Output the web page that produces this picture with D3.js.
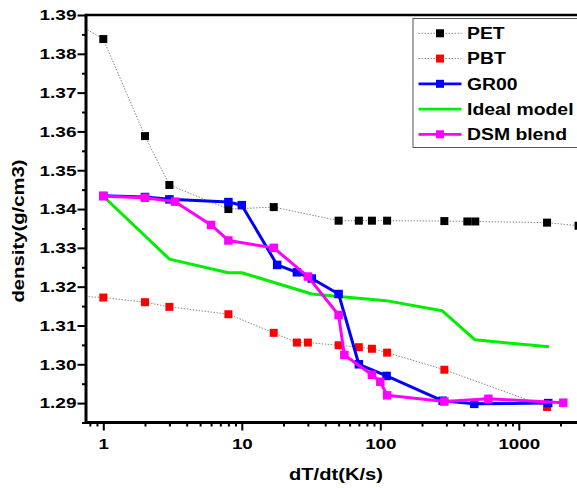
<!DOCTYPE html>
<html>
<head>
<meta charset="utf-8">
<script src="https://cdn.jsdelivr.net/npm/d3@7"></script>
<style>
  body { margin: 0; background: #fff; }
  svg { display: block; }
  text { font-family: "Liberation Sans", Arial, sans-serif; font-weight: bold; fill: #000; }
</style>
</head>
<body>
<svg id="chart" width="577" height="488"></svg>
<script>
// Cooling rate (K/s) vs. density (g/cm3)
const petX   = [0.5, 1, 2, 3, 8, 17, 50, 70, 87, 112, 290, 425, 485, 1600, 2700];
const petY   = [1.3901, 1.3838, 1.3588, 1.3462, 1.3400, 1.3405, 1.3370, 1.3370, 1.3370, 1.3370, 1.3369, 1.3368, 1.3368, 1.3365, 1.3357];

const pbtX   = [0.5, 1, 2, 3, 8, 17, 25, 30, 50, 70, 87, 112, 290, 1600];
const pbtY   = [1.3178, 1.3172, 1.3160, 1.3148, 1.3129, 1.3081, 1.3056, 1.3056, 1.3049, 1.3044, 1.3040, 1.3030, 1.2986, 1.2890];

const gr00X  = [1, 2, 3, 8, 10, 18, 25, 32, 50, 70, 111, 282, 477, 1630];
const gr00Y  = [1.3434, 1.3431, 1.3425, 1.3418, 1.3410, 1.3256, 1.3237, 1.3221, 1.3181, 1.3000, 1.2970, 1.2906, 1.2898, 1.2900];

const idealX = [1, 3, 8, 10, 32, 110, 279, 483, 1650];
const idealY = [1.3433, 1.3271, 1.3236, 1.3236, 1.3181, 1.3164, 1.3138, 1.3063, 1.3045];

const dsmX   = [1, 2, 3.3, 6, 8, 17, 30, 50, 55, 87, 100, 112, 290, 603, 2096];
const dsmY   = [1.3433, 1.3429, 1.3419, 1.3359, 1.3319, 1.3300, 1.3226, 1.3127, 1.3024, 1.2973, 1.2955, 1.2920, 1.2904, 1.2911, 1.2901];

const seriesNames = ["PET", "PBT", "GR00", "Ideal model", "DSM blend"];
const xTickLabels = [1, 10, 100, 1000];
const yTickLabels = [1.29, 1.30, 1.31, 1.32, 1.33, 1.34, 1.35, 1.36, 1.37, 1.38, 1.39];

const svg = d3.select("#chart");
const W = 577, H = 488;
const plotL = 86, plotT = 15, plotB = 422.5, decade = 138.5;
const xDomain = [0.75, 3000];

const x = d3.scaleLog().domain(xDomain)
  .range([plotL, plotL + (Math.log10(xDomain[1]) - Math.log10(xDomain[0])) * decade]);
const y = d3.scaleLinear().domain([1.285, 1.39]).range([plotB, plotT]);

// widen glyphs horizontally while keeping anchors
function stretch(sel, k) {
  sel.each(function () {
    const w = this.getComputedTextLength();
    this.setAttribute("textLength", w * k);
    this.setAttribute("lengthAdjust", "spacingAndGlyphs");
  });
}

svg.append("defs").append("clipPath").attr("id", "plotClip")
  .append("rect").attr("x", plotL).attr("y", plotT).attr("width", W - plotL).attr("height", plotB - plotT);

const plot = svg.append("g").attr("clip-path", "url(#plotClip)");

const pts = (xs, ys) => xs.map((v, i) => [v, ys[i]]);
const line = d3.line().x(d => x(d[0])).y(d => y(d[1]));

function drawSeries(data, opts) {
  plot.append("path").datum(data)
    .attr("d", line)
    .attr("fill", "none")
    .attr("stroke", opts.stroke)
    .attr("stroke-width", opts.width)
    .attr("stroke-dasharray", opts.dash || null)
    .attr("stroke-linejoin", "round");
  if (opts.marker) {
    const s = opts.size;
    plot.append("g").selectAll("rect").data(data).join("rect")
      .attr("x", d => x(d[0]) - s / 2)
      .attr("y", d => y(d[1]) - s / 2)
      .attr("width", s).attr("height", s)
      .attr("fill", opts.marker);
  }
}

const styles = {
  "PET":         { stroke: "#8a8a8a", width: 1, dash: "1.5,1.5", marker: "#000000", size: 8 },
  "PBT":         { stroke: "#8a8a8a", width: 1, dash: "1.5,1.5", marker: "#ff0000", size: 8 },
  "GR00":        { stroke: "#0000ff", width: 3, marker: "#0000ff", size: 8.5 },
  "Ideal model": { stroke: "#00ee00", width: 3 },
  "DSM blend":   { stroke: "#ff00ff", width: 3, marker: "#ff00ff", size: 8.5 }
};

drawSeries(pts(idealX, idealY), styles["Ideal model"]);
drawSeries(pts(petX, petY), styles["PET"]);
drawSeries(pts(pbtX, pbtY), styles["PBT"]);
drawSeries(pts(gr00X, gr00Y), styles["GR00"]);
drawSeries(pts(dsmX, dsmY), styles["DSM blend"]);

// x axis (bottom)
const xMinor = [];
[0.1, 1, 10, 100, 1000].forEach(d => { for (let m = 2; m <= 9; m++) { const v = m * d; if (v >= xDomain[0] && v <= xDomain[1]) xMinor.push(v); } });

const gxMinor = svg.append("g").attr("transform", `translate(0,${plotB})`)
  .call(d3.axisBottom(x).tickValues(xMinor).tickSize(4).tickFormat(""));
const gx = svg.append("g").attr("transform", `translate(0,${plotB})`)
  .call(d3.axisBottom(x).tickValues(xTickLabels).tickSize(8).tickPadding(8).tickFormat(d3.format("d")));
[gxMinor, gx].forEach(g => { g.select(".domain").remove(); g.selectAll("line").attr("stroke-width", 2); });
gx.selectAll("text").attr("font-size", 15).attr("dy", "0.71em").call(stretch, 1.25);

// y axis (left)
const yMinor = d3.range(0, 21).map(i => 1.285 + i * 0.005).filter((v, i) => i % 2 === 0);
const gyMinor = svg.append("g").attr("transform", `translate(${plotL},0)`)
  .call(d3.axisLeft(y).tickValues(yMinor).tickSize(4).tickFormat(""));
const gy = svg.append("g").attr("transform", `translate(${plotL},0)`)
  .call(d3.axisLeft(y).tickValues(yTickLabels).tickSize(8.5).tickPadding(1).tickFormat(d3.format(".2f")));
[gyMinor, gy].forEach(g => { g.select(".domain").remove(); g.selectAll("line").attr("stroke-width", 2); });
gy.selectAll("text").attr("font-size", 15).call(stretch, 1.27);

// frame lines
svg.append("line").attr("x1", plotL).attr("x2", W).attr("y1", plotB).attr("y2", plotB)
  .attr("stroke", "#000").attr("stroke-width", 3);
svg.append("line").attr("x1", plotL).attr("x2", W).attr("y1", plotT).attr("y2", plotT)
  .attr("stroke", "#000").attr("stroke-width", 2.7);
svg.append("line").attr("x1", plotL).attr("x2", plotL).attr("y1", plotT - 1.35).attr("y2", plotB + 1.5)
  .attr("stroke", "#000").attr("stroke-width", 3);

// axis titles
svg.append("text").attr("x", 336).attr("y", 480).attr("text-anchor", "middle")
  .attr("font-size", 16.5).text("dT/dt(K/s)").call(stretch, 1.22);
svg.append("text").attr("transform", "translate(24,231) rotate(-90)").attr("text-anchor", "middle")
  .attr("font-size", 16.5).text("density(g/cm3)").call(stretch, 1.23);

// legend
const leg = svg.append("g");
leg.append("rect").attr("x", 413).attr("y", 18.5).attr("width", 200).attr("height", 129)
  .attr("fill", "#fff").attr("stroke", "#555").attr("stroke-width", 1);
seriesNames.forEach((name, i) => {
  const st = styles[name];
  const cy = 33.3 + i * 25.25;
  leg.append("line").attr("x1", 418.5).attr("x2", 461.5).attr("y1", cy).attr("y2", cy)
    .attr("stroke", st.stroke).attr("stroke-width", st.width === 1 ? 1 : 2.8)
    .attr("stroke-dasharray", st.dash || null);
  if (st.marker) {
    leg.append("rect").attr("x", 440 - 4).attr("y", cy - 4).attr("width", 8).attr("height", 8)
      .attr("fill", st.marker);
  }
  leg.append("text").attr("x", 467).attr("y", cy).attr("dy", "0.36em")
    .attr("font-size", 16).text(name).call(stretch, 1.21);
});
</script>
</body>
</html>
